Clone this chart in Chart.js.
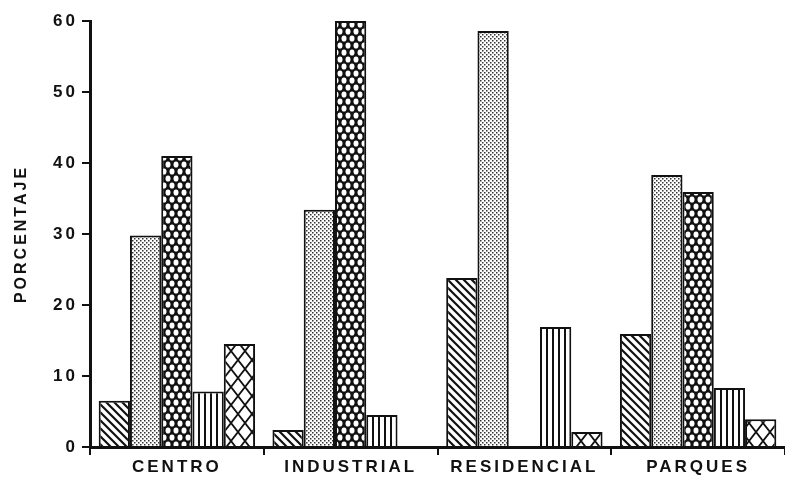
<!DOCTYPE html>
<html>
<head>
<meta charset="utf-8">
<script src="https://cdn.jsdelivr.net/npm/chart.js@4/dist/chart.umd.min.js"></script>
<style>
  html, body { margin: 0; background: #fff; }
</style>
</head>
<body>
<canvas id="chart" width="785" height="481"></canvas>
<script>
// datos
const categories = ['CENTRO', 'INDUSTRIAL', 'RESIDENCIAL', 'PARQUES'];
const rayado    = [6.5, 2.4, 23.8, 15.9];
const punteado  = [29.8, 33.4, 58.6, 38.3];
const reticula  = [41, 60, null, 35.9];
const vertical  = [7.8, 4.5, 16.9, 8.3];
const rombos    = [14.5, null, 2.1, 3.9];
const yTicks    = [0, 10, 20, 30, 40, 50, 60];

const ink = '#111';
const fontFamily = '"Liberation Sans", Arial, sans-serif';

const canvas = document.getElementById('chart');
const ctx = canvas.getContext('2d');

// tramas en blanco y negro
const makePattern = (w, h, draw) => {
    const c = document.createElement('canvas');
    c.width = w;
    c.height = h;
    const g = c.getContext('2d');
    g.fillStyle = '#fff';
    g.fillRect(0, 0, w, h);
    g.strokeStyle = ink;
    g.fillStyle = ink;
    draw(g, w, h);
    return ctx.createPattern(c, 'repeat');
};

const patDiagonal = makePattern(8, 8, (g, w, h) => {
    g.lineWidth = 2.2;
    g.beginPath();
    g.moveTo(-1, -1); g.lineTo(w + 1, h + 1);
    g.moveTo(-1, h - 1); g.lineTo(1, h + 1);
    g.moveTo(w - 1, -1); g.lineTo(w + 1, 1);
    g.stroke();
});

const patStipple = makePattern(4, 4, (g) => {
    g.fillStyle = '#333';
    g.fillRect(0, 0, 1.5, 1.5);
    g.fillRect(2, 2, 1.5, 1.5);
});

const patDense = makePattern(8, 14, (g, w, h) => {
    g.fillRect(0, 0, w, h);
    g.fillStyle = '#fff';
    const hole = (x, y) => {
        g.beginPath();
        g.ellipse(x, y, 2.5, 3.1, 0, 0, Math.PI * 2);
        g.fill();
    };
    hole(4, 3.5);
    hole(0, 10.5);
    hole(8, 10.5);
});

const patVertical = makePattern(6, 4, (g, w, h) => {
    g.fillRect(0, 0, 2, h);
});

const patDiamond = makePattern(14, 18, (g, w, h) => {
    g.lineWidth = 1.8;
    g.beginPath();
    g.moveTo(0, 0); g.lineTo(w, h);
    g.moveTo(w, 0); g.lineTo(0, h);
    g.stroke();
});

const makeSet = (label, data, pattern) => ({
    label,
    data,
    backgroundColor: pattern,
    borderColor: ink,
    borderWidth: 2,
    categoryPercentage: 0.9,
    barPercentage: 1.0
});

// espaciado de letras como en el rotulado original
const letterSpacing = {
    id: 'letterSpacing',
    beforeDraw(chart) {
        chart.ctx.letterSpacing = '3px';
    }
};

new Chart(ctx, {
    type: 'bar',
    data: {
        labels: categories,
        datasets: [
            makeSet('rayado', rayado, patDiagonal),
            makeSet('punteado', punteado, patStipple),
            makeSet('reticula', reticula, patDense),
            makeSet('vertical', vertical, patVertical),
            makeSet('rombos', rombos, patDiamond)
        ]
    },
    options: {
        responsive: false,
        animation: false,
        layout: { padding: { top: 21, right: 0, left: 0, bottom: 0 } },
        plugins: {
            legend: { display: false },
            tooltip: { enabled: false }
        },
        scales: {
            x: {
                grid: {
                    offset: true,
                    drawOnChartArea: false,
                    tickLength: 8,
                    color: ink,
                    lineWidth: 2
                },
                border: { color: ink, width: 3 },
                ticks: {
                    color: ink,
                    padding: 2,
                    font: { family: fontFamily, size: 17, weight: 'bold' }
                },
                afterFit: (scale) => { scale.height = 34; }
            },
            y: {
                min: 0,
                max: 60,
                afterBuildTicks: (scale) => {
                    scale.ticks = yTicks.map(v => ({ value: v }));
                },
                grid: {
                    drawOnChartArea: false,
                    tickLength: 8,
                    color: ink,
                    lineWidth: 2
                },
                border: { color: ink, width: 3 },
                ticks: {
                    color: ink,
                    padding: 4,
                    font: { family: fontFamily, size: 17, weight: 'bold' }
                },
                title: {
                    display: true,
                    text: 'PORCENTAJE',
                    color: ink,
                    padding: { top: 12, bottom: 0 },
                    font: { family: fontFamily, size: 16, weight: 'bold' }
                },
                afterFit: (scale) => { scale.width = 90; }
            }
        }
    },
    plugins: [letterSpacing]
});
</script>
</body>
</html>
